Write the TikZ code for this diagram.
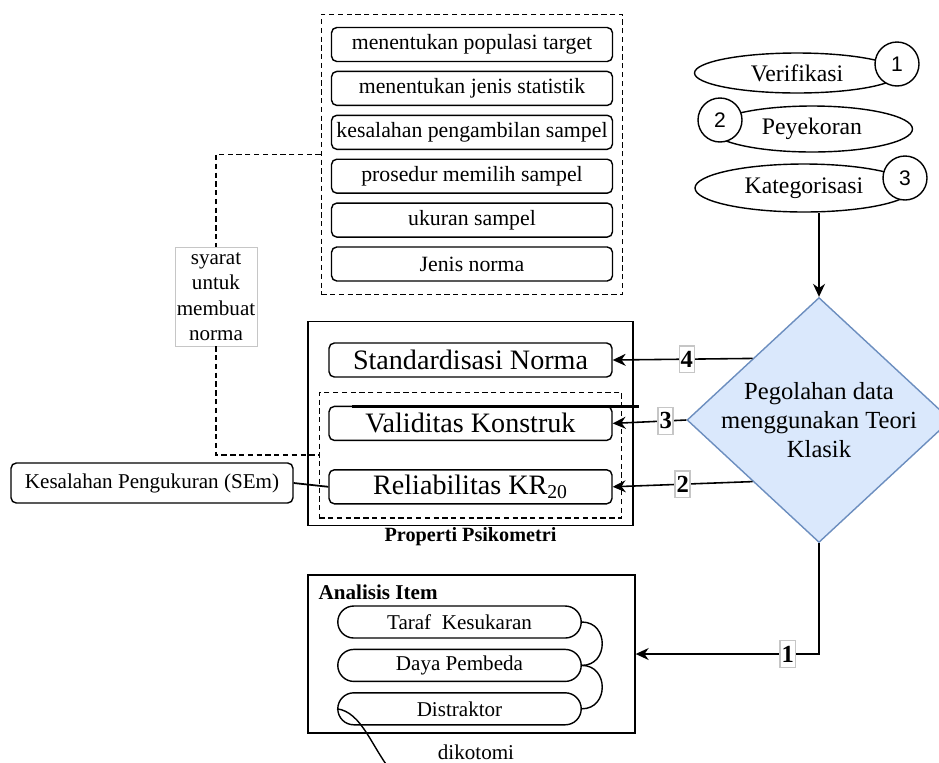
\documentclass[tikz,border=0pt]{standalone}
\usepackage{fontspec}
\setmainfont{Liberation Serif}
\newfontfamily\numfont{Liberation Sans}
\usepackage{tikz}
\usetikzlibrary{shapes.geometric, shapes.misc, arrows.meta, positioning, calc, fit}
\definecolor{cDiaFill}{RGB}{218,232,252}
\definecolor{cDiaLine}{RGB}{108,142,191}
\newcommand{\fsz}[2]{\fontsize{#1pt}{#2pt}\selectfont}
\tikzset{
	req/.style      ={rectangle, rounded corners=3pt, draw=black, line width=0.8pt, minimum width=5.62cm, minimum height=0.68cm, inner sep=0.5pt, font=\fsz{12.4}{14.5}},
	prop/.style     ={rectangle, rounded corners=3pt, draw=black, line width=0.8pt, minimum width=5.66cm, minimum height=0.68cm, inner sep=1pt, font=\fsz{16}{18}},
	pill/.style     ={rounded rectangle, draw=black, line width=0.8pt, minimum width=4.94cm, minimum height=0.64cm, inner sep=1pt, font=\fsz{12}{14}},
	stage/.style    ={ellipse, draw=black, fill=white, line width=0.8pt, inner sep=0pt, font=\fsz{13.5}{16}},
	numcirc/.style  ={circle, draw=black, fill=white, line width=0.8pt, minimum size=0.88cm, inner sep=0pt, font={\numfont\fsz{12}{14}}},
	numlbl/.style   ={rectangle, draw=gray!45, fill=white, inner xsep=0.8pt, inner ysep=3pt, font={\bfseries\fsz{14}{16}}},
	group/.style    ={rectangle, draw=black, line width=0.8pt, inner sep=0pt},
	dgroup/.style   ={rectangle, draw=black, dash pattern=on 3pt off 2pt, line width=0.7pt, inner sep=0pt},
	flowarrow/.style={-{Stealth[length=2.6mm, width=2.4mm]}, line width=0.9pt},
	dashline/.style ={dash pattern=on 3pt off 2pt, line width=0.7pt},
}
\begin{document}
\begin{tikzpicture}[x=0.02cm, y=-0.02cm]
	\useasboundingbox (0,0) rectangle (939,762);
	% syarat membuat norma
	\node[req] (r1) at (472,44.5) {menentukan populasi target};
	\node[req, below=0.17cm of r1] (r2) {menentukan jenis statistik};
	\node[req, below=0.17cm of r2] (r3) {kesalahan pengambilan sampel};
	\node[req, below=0.17cm of r3] (r4) {prosedur memilih sampel};
	\node[req, below=0.17cm of r4] (r5) {ukuran sampel};
	\node[req, below=0.17cm of r5] (r6) {Jenis norma};
	\node[dgroup, fit=(r1)(r6), inner xsep=0.19cm, inner ysep=0.25cm] (reqgrp) {};
	% tahap awal
	\node[stage, minimum width=4.1cm, minimum height=0.8cm] (ver) at (797,73) {Verifikasi};
	\node[stage, minimum width=4.02cm, minimum height=0.92cm] (pey) at (812,129) {Peyekoran};
	\node[stage, minimum width=4.36cm, minimum height=0.96cm] (kat) at (804,188) {Kategorisasi};
	\node[numcirc] (n1) at (897,64) {1};
	\node[numcirc] (n2) at (720,120) {2};
	\node[numcirc] (n3) at (905,178) {3};
	% pengolahan data
	\node[diamond, draw=cDiaLine, fill=cDiaFill, line width=0.8pt, minimum width=5.28cm, minimum height=4.9cm, inner sep=0pt,
		label={[align=center, font=\fsz{14}{16.5}]center:Pegolahan data\\menggunakan Teori\\Klasik}] (dia) at (819,420) {};
	% properti psikometri
	\node[prop] (std) at (470.5,360) {Standardisasi Norma};
	\node[prop, below=0.56cm of std] (val) {Validitas Konstruk};
	\node[prop, below=0.56cm of val] (rel) {Reliabilitas KR\textsubscript{20}};
	\node[dgroup, fit=(val)(rel), inner xsep=0.18cm, inner ysep=0.27cm] (core) {};
	\node[group, fit=(std)(rel), inner xsep=0.41cm, inner ysep=0.42cm] (prp) {};
	\node[below=0.02cm of prp, inner sep=0pt, font={\bfseries\fsz{11.5}{13}}] (prplbl) {Properti Psikometri};
	\node[rectangle, rounded corners=3pt, draw=black, line width=0.8pt, minimum width=5.64cm, minimum height=0.8cm, font=\fsz{12}{14}] (sem) at (152,483) {Kesalahan Pengukuran (SEm)};
	\draw[line width=1pt] (sem.east) -- (rel.west);
	\draw[line width=1.6pt] ($(val.north west)+(24,1)$) -- ($(val.north east)+(26,1)$);
	% syarat untuk membuat norma
	\node[draw=gray!45, fill=white, align=center, inner sep=1pt, minimum width=1.58cm, minimum height=1.98cm, font=\fsz{12}{14.5}] (syarat) at (216,296.5) {syarat\\untuk\\membuat\\norma};
	\draw[dashline] (reqgrp.west) -| (syarat.north);
	\draw[dashline] (syarat.south) |- (core.west);
	% analisis item
	\node[group, minimum width=6.54cm, minimum height=3.16cm] (ana) at (471.5,654) {};
	\node[anchor=north west, inner sep=0pt, font={\bfseries\fsz{12}{14}}] (anattl) at ($(ana.north west)+(11,10)$) {Analisis Item};
	\node[pill] (tk) at (459.5,622) {Taraf\ \ Kesukaran};
	\node[pill, below=0.2cm of tk] (dp) {Daya Pembeda};
	\node[pill, below=0.2cm of dp] (ds) {Distraktor};
	\draw[line width=0.8pt] (tk.east) to[out=0, in=0, looseness=1.6] (dp.east);
	\draw[line width=0.8pt] (dp.east) to[out=0, in=0, looseness=1.6] (ds.east);
	\node[inner sep=0pt, font=\fsz{12}{14}] (dik) at (476,752) {dikotomi};
	\coordinate (dikend) at (392,772);
	\draw[line width=0.8pt] (ds.west) .. controls (362,712) and (372,748) .. (dikend);
	% alur
	\draw[flowarrow] (kat.south -| dia.north) -- (dia.north);
	\draw[flowarrow] ($(dia.north)!0.5!(dia.west)$) -- node[numlbl, pos=0.47] (l4) {4} (std.east);
	\draw[flowarrow] (dia.west) -- node[numlbl, pos=0.28] (l3) {3} (val.east);
	\draw[flowarrow] ($(dia.south)!0.5!(dia.west)$) -- node[numlbl, pos=0.5] (l2) {2} (rel.east);
	\draw[flowarrow] (dia.south) |- node[numlbl, pos=0.585] (l1) {1} (ana.east);
\end{tikzpicture}
\end{document}
